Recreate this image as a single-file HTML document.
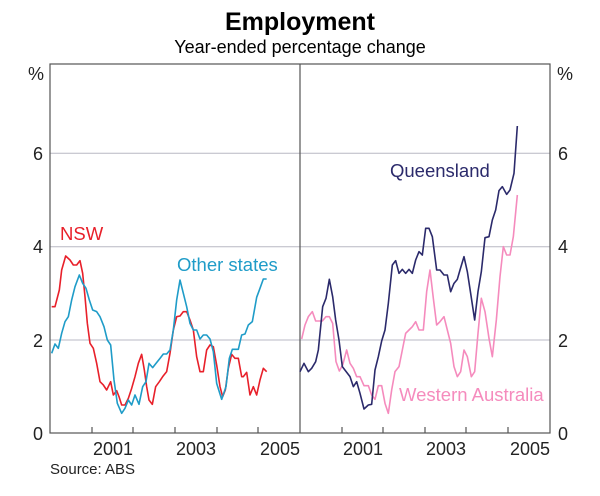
<!DOCTYPE html>
<html><head><meta charset="utf-8"><style>
body{margin:0;background:#fff}
svg{display:block;font-family:"Liberation Sans",Arial,sans-serif}
</style></head><body>
<svg width="600" height="496" viewBox="0 0 600 496" xmlns="http://www.w3.org/2000/svg">
<text x="300" y="30" text-anchor="middle" font-size="25" font-weight="bold">Employment</text>
<text x="300" y="53" text-anchor="middle" font-size="18">Year-ended percentage change</text>
<g stroke="#b8b8c4" stroke-width="1">
<line x1="50" y1="153.3" x2="550" y2="153.3"/>
<line x1="50" y1="246.7" x2="550" y2="246.7"/>
<line x1="50" y1="340" x2="550" y2="340"/>
</g>
<rect x="50" y="64" width="500" height="369" fill="none" stroke="#555" stroke-width="1.2"/>
<line x1="300" y1="64" x2="300" y2="433" stroke="#555" stroke-width="1.2"/>
<g stroke="#555" stroke-width="1.2">
<line x1="92" y1="433" x2="92" y2="427"/><line x1="133" y1="433" x2="133" y2="427"/><line x1="175" y1="433" x2="175" y2="427"/><line x1="217" y1="433" x2="217" y2="427"/><line x1="258" y1="433" x2="258" y2="427"/>
<line x1="342" y1="433" x2="342" y2="427"/><line x1="383" y1="433" x2="383" y2="427"/><line x1="425" y1="433" x2="425" y2="427"/><line x1="466" y1="433" x2="466" y2="427"/><line x1="508" y1="433" x2="508" y2="427"/>
</g>
<g font-size="18" fill="#222">
<text x="44" y="80" text-anchor="end">%</text>
<text x="43" y="160" text-anchor="end">6</text>
<text x="43" y="253" text-anchor="end">4</text>
<text x="43" y="347" text-anchor="end">2</text>
<text x="43" y="440" text-anchor="end">0</text>
<text x="557" y="80">%</text>
<text x="558" y="160">6</text>
<text x="558" y="253">4</text>
<text x="558" y="347">2</text>
<text x="558" y="440">0</text>
<text x="113" y="455" text-anchor="middle">2001</text>
<text x="196" y="455" text-anchor="middle">2003</text>
<text x="280" y="455" text-anchor="middle">2005</text>
<text x="363" y="455" text-anchor="middle">2001</text>
<text x="446" y="455" text-anchor="middle">2003</text>
<text x="530" y="455" text-anchor="middle">2005</text>
<text x="50" y="474" font-size="15">Source: ABS</text>
</g>
<text x="60" y="240" font-size="18.5" fill="#e8202a">NSW</text>
<text x="177" y="271" font-size="18.5" fill="#1f9cc8">Other states</text>
<text x="390" y="177" font-size="18.5" fill="#2b2a6b">Queensland</text>
<text x="399" y="401" font-size="18.5" fill="#f58bbd">Western Australia</text>
<g transform="translate(0,40) scale(0.33333)" fill="none" stroke-width="1.6" stroke-linejoin="round">
<polyline vector-effect="non-scaling-stroke" stroke="#e8202a" points="155,800 165,800 178,750 185,690 197,648 210,660 220,675 230,675 240,662 248,700 255,770 262,850 270,910 280,925 290,970 300,1025 310,1035 320,1050 332,1025 340,1065 350,1052 357,1070 365,1095 375,1095 385,1075 395,1045 405,1010 415,970 425,943 433,990 440,1040 447,1080 457,1093 467,1040 478,1025 488,1010 500,995 510,940 520,870 530,830 540,828 550,815 560,815 570,840 580,870 590,950 600,995 610,995 620,930 630,915 640,920 650,975 660,1040 668,1070 676,1050 685,985 695,943 705,955 715,955 725,1010 730,1010 740,997 750,1065 760,1040 770,1065 780,1020 790,985 800,995"/>
<polyline vector-effect="non-scaling-stroke" stroke="#1f9cc8" points="155,940 165,912 175,925 185,880 195,845 205,830 215,780 225,740 238,705 248,730 258,745 268,780 278,810 290,815 300,830 312,860 322,900 332,915 342,1020 352,1090 365,1120 375,1105 385,1080 395,1095 405,1065 417,1093 428,1040 438,1025 447,970 458,983 468,970 480,955 490,942 500,942 510,930 520,870 530,780 540,720 550,760 560,800 570,850 580,870 590,870 600,897 610,885 620,885 630,897 640,935 650,1030 665,1078 678,1040 688,955 697,928 705,928 715,928 725,885 735,882 745,855 757,845 770,772 780,745 790,717 800,717"/>
</g>
<g transform="translate(300,40) scale(0.33333)" fill="none" stroke-width="1.6" stroke-linejoin="round">
<polyline vector-effect="non-scaling-stroke" stroke="#f58bbd" points="5,897 15,855 25,830 37,815 47,843 57,843 67,843 78,830 88,830 98,850 108,965 118,993 128,975 140,930 150,970 160,985 170,1010 180,1010 192,1037 205,1037 215,1065 225,1078 235,1037 245,1037 255,1090 265,1120 275,1050 285,995 297,980 307,930 317,880 327,870 337,860 347,845 357,870 370,870 380,755 390,690 400,775 410,855 420,845 432,830 442,870 452,910 462,980 472,1010 482,995 492,930 502,950 514,1010 524,995 534,880 544,775 555,815 567,895 577,950 589,840 600,710 610,620 620,645 630,645 640,590 652,465"/>
<polyline vector-effect="non-scaling-stroke" stroke="#2b2a6b" points="0,995 12,970 25,995 35,985 47,965 55,930 68,800 78,775 88,718 98,770 107,840 117,900 127,980 137,993 150,1010 160,1040 170,1025 180,1060 192,1107 205,1095 215,1093 225,990 235,950 245,903 255,870 265,790 277,675 287,662 297,700 307,688 317,700 327,688 337,700 347,660 357,635 367,645 377,565 387,565 397,590 410,690 420,690 432,705 442,705 452,755 462,730 472,718 480,690 492,650 502,695 512,760 524,840 534,755 544,695 555,593 567,590 577,540 587,510 597,452 607,440 620,463 630,450 642,400 652,258"/>
</g>
</svg>
</body></html>
